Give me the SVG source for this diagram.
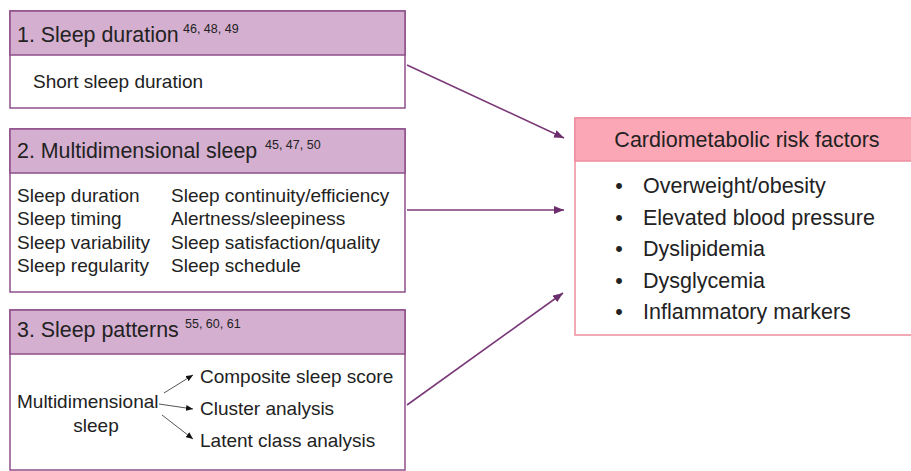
<svg xmlns="http://www.w3.org/2000/svg" width="911" height="471" viewBox="0 0 911 471">
<defs>
<marker id="ah" markerWidth="10" markerHeight="8" refX="10" refY="4" orient="auto" markerUnits="userSpaceOnUse"><path d="M0,0 L10,4 L0,8 z" fill="#6b2d6b"/></marker>
<marker id="sh" markerWidth="7" markerHeight="6" refX="7" refY="3" orient="auto" markerUnits="userSpaceOnUse"><path d="M0,0 L7,3 L0,6 z" fill="#111"/></marker>
</defs>
<style>
text{font-family:"Liberation Sans",Arial,sans-serif;fill:#222}
.box{fill:#fff;stroke:#8e4f8a;stroke-width:1.5}
.hd{fill:#d5afd0;stroke:#8e4f8a;stroke-width:1.5}
.pbox{fill:#fff;stroke:#ee8ea0;stroke-width:1.5}
.phd{fill:#fba7b5;stroke:#ee8ea0;stroke-width:1.5}
.h{font-size:21.4px}
.sup{font-size:12.5px}
.b{font-size:19px}
.r{font-size:21.5px}
.con{stroke:#7a3a78;stroke-width:1.6;fill:none;marker-end:url(#ah)}
.sm{stroke:#555;stroke-width:1;fill:none;marker-end:url(#sh)}
</style>
<rect width="911" height="471" fill="#fff"/>
<g id="node1">
<rect class="box" x="10" y="11" width="395" height="97"/>
<rect class="hd" x="10" y="11" width="395" height="44"/>
<text class="h" x="17" y="42">1. Sleep duration</text>
<text class="sup" x="183" y="33">46, 48, 49</text>
<text class="b" x="33" y="88">Short sleep duration</text>
</g>
<g id="node2">
<rect class="box" x="10" y="129" width="395" height="163"/>
<rect class="hd" x="10" y="129" width="395" height="44"/>
<text class="h" x="17" y="158">2. Multidimensional sleep</text>
<text class="sup" x="265" y="149">45, 47, 50</text>
<text class="b" x="17" y="202">Sleep duration</text>
<text class="b" x="17" y="225">Sleep timing</text>
<text class="b" x="17" y="249">Sleep variability</text>
<text class="b" x="17" y="272">Sleep regularity</text>
<text class="b" x="171" y="202">Sleep continuity/efficiency</text>
<text class="b" x="171" y="225">Alertness/sleepiness</text>
<text class="b" x="171" y="249">Sleep satisfaction/quality</text>
<text class="b" x="171" y="272">Sleep schedule</text>
</g>
<g id="node3">
<rect class="box" x="10" y="310" width="395" height="160"/>
<rect class="hd" x="10" y="310" width="395" height="44"/>
<text class="h" x="17" y="337">3. Sleep patterns</text>
<text class="sup" x="185" y="328">55, 60, 61</text>
<text class="b" x="17" y="408">Multidimensional</text>
<text class="b" x="96" y="432" text-anchor="middle">sleep</text>
<text class="b" x="200" y="383">Composite sleep score</text>
<text class="b" x="200" y="415">Cluster analysis</text>
<text class="b" x="200" y="447">Latent class analysis</text>
<g id="subarrows">
<line class="sm" x1="164" y1="393" x2="193" y2="375"/>
<line class="sm" x1="159" y1="404" x2="193" y2="409"/>
<line class="sm" x1="162" y1="415" x2="193" y2="439"/>
</g>
</g>
<g id="node4">
<rect class="pbox" x="575" y="118" width="345" height="217"/>
<rect class="phd" x="575" y="118" width="345" height="43"/>
<text class="r" x="747" y="147" text-anchor="middle">Cardiometabolic risk factors</text>
<text class="r" x="619" y="193" text-anchor="middle">•</text>
<text class="r" x="643" y="193">Overweight/obesity</text>
<text class="r" x="619" y="225" text-anchor="middle">•</text>
<text class="r" x="643" y="225">Elevated blood pressure</text>
<text class="r" x="619" y="256" text-anchor="middle">•</text>
<text class="r" x="643" y="256">Dyslipidemia</text>
<text class="r" x="619" y="288" text-anchor="middle">•</text>
<text class="r" x="643" y="288">Dysglycemia</text>
<text class="r" x="619" y="319" text-anchor="middle">•</text>
<text class="r" x="643" y="319">Inflammatory markers</text>
</g>
<g id="connectors">
<line class="con" x1="407" y1="65" x2="564" y2="138"/>
<line class="con" x1="407" y1="210" x2="564" y2="210"/>
<line class="con" x1="407" y1="405" x2="563" y2="293"/>
</g>
</svg>
